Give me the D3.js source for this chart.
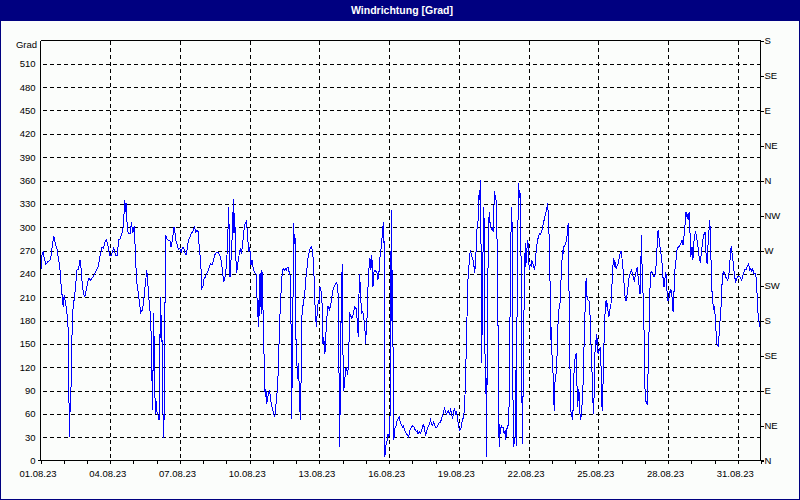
<!DOCTYPE html>
<html><head><meta charset="utf-8">
<script src="https://cdn.jsdelivr.net/npm/d3@7"></script>
<style>
body{margin:0;background:#fbfdfb;}
svg{display:block;}
text{font-family:"Liberation Sans",Arial,sans-serif;}
</style>
</head><body>
<svg id="chart" width="800" height="500"></svg>
<script>
// ---------- data ----------
const chartTitle = "Windrichtung [Grad]";
const unitLabel = "Grad";
const startDate = new Date(2023, 7, 1, 0, 0);
const endDate = new Date(2023, 8, 1, 0, 0);
const degreeTicks = [0,30,60,90,120,150,180,210,240,270,300,330,360,390,420,450,480,510];
const compassValues = [0,45,90,135,180,225,270,315,360,405,450,495,540];
const compassLabels = ["N","NE","E","SE","S","SW","W","NW","N","NE","E","SE","S"];

// [hours since 01.08.23 00:00, direction in degrees]
const week1 = [[0.7,246],[1.4,264],[2.8,269],[3.8,260],[5.5,252],[7.6,256],[9.6,257],[11,264],[12.4,278],[13.8,289],[14.4,283],[15.8,277],[17.2,271],[18.6,259],[20,249],[20.6,234],[22,218],[22.7,203],[23.7,197],[24.4,213],[25.5,205],[26.8,195],[28.2,178],[28.9,155],[29.2,87],[30.3,30],[30.6,82],[31.3,75],[32,137],[32.7,168],[33.7,198],[35.1,210],[36.5,228],[37.8,246],[39.2,246],[39.9,251],[40.9,258],[42,246],[43,228],[44.4,215],[45.8,210],[46.4,215],[47.8,223],[48.8,230],[49.9,234],[51.6,232],[53,234],[54.7,237],[56.4,241],[58.1,245],[59.9,251],[60.9,260],[62.3,266],[63.3,274],[65,273],[66.7,281],[67.8,284],[69.1,280],[70.2,272],[71.2,264],[72.6,263],[74.3,268],[75.7,274],[76.4,268],[77.7,264],[79.5,264],[80.5,284],[81.9,284],[83.2,289],[84.6,294],[85.7,303],[86.3,318],[87,335],[88.1,319],[88.8,331],[89.4,305],[90.5,292],[92.5,292],[93.9,306],[95.3,292],[96.7,301],[97.7,276],[98.7,245],[99.8,225],[101.1,214],[102.2,202],[103.5,190],[104.9,193],[106.3,202],[107.3,215],[108.7,232],[109.7,245],[110.8,228],[111.8,210],[113.2,191],[114.6,155],[115.2,99],[115.9,65],[116.6,189],[117.3,155],[118,92],[118.7,60],[119.7,77],[120.4,60],[121.4,58],[122.5,52],[123.2,135],[123.8,210],[124.5,153],[125.2,187],[126.2,73],[127.3,29],[128,95],[128.7,225],[129.3,290],[130.7,285],[132.1,283],[133.8,282],[134.8,274],[135.9,282],[136.9,290],[137.9,300],[139,292],[140,282],[141.4,277],[142.4,271],[143.8,273],[145.2,268],[146.5,274],[147.9,273],[149.3,267],[150.3,264]];

const week2 = [[151.3,271],[152.7,283],[154.1,286],[155.4,291],[156.8,294],[158.2,297],[158.9,300],[160.3,294],[161.6,296],[163,294],[164,271],[165.4,258],[166.5,221],[167.8,224],[168.9,234],[170.2,236],[171.6,240],[173,244],[174.4,249],[175.7,253],[177.1,251],[178.5,257],[179.9,264],[181.2,267],[183,268],[184.3,266],[185.7,262],[187.1,253],[188.1,241],[189.2,230],[190.2,234],[191.2,241],[192.3,257],[193.3,284],[194.3,326],[195,284],[195.7,236],[196.4,249],[197.4,275],[198.4,299],[199.1,336],[199.8,292],[200.5,318],[201.2,284],[201.9,256],[202.6,241],[203.3,249],[204.3,258],[205.3,266],[206.4,273],[207.4,266],[208.4,275],[209.5,288],[210.5,301],[211.5,305],[212.5,307],[213.2,300],[213.9,288],[215,268],[216,275],[216.7,264],[217.4,251],[218.4,258],[219.4,249],[220.5,243],[221.5,241],[222.5,241],[223.6,208],[224.2,185],[224.9,206],[225.3,172],[226,200],[226.7,241],[227.3,198],[227.7,210],[228,189],[228.7,245],[229.4,210],[230.1,180],[230.8,137],[231.5,95],[232.2,82],[232.8,92],[233.5,73],[234.6,79],[235.3,86],[235.9,88],[236.6,90],[237.3,82],[238.3,73],[239.4,67],[240.8,60],[241.8,56],[242.5,62],[243.2,73],[244.2,86],[245.2,107],[245.9,133],[246.6,163],[247.6,198],[248.7,223],[249.7,243],[250.7,247],[251.8,245],[252.8,247],[253.8,245],[254.9,248],[255.9,248],[256.6,243],[257.6,241],[258.3,210],[259,146],[259.3,54],[260,120],[260.7,202],[261.4,305],[262.1,279],[262.8,288],[263.5,198],[264.1,125],[265.2,120],[265.9,105],[266.6,125],[267.2,86],[267.9,64],[268.6,52],[269,99],[269.7,172],[270.3,198],[271.4,200],[272.4,210],[273.4,223],[274.5,241],[275.5,251],[276.5,263],[277.6,268],[278.6,273],[279.6,275],[280.7,271],[281.3,264],[282,251],[282.7,228],[283.4,202],[284.1,185],[284.8,172],[285.5,185],[286.2,198],[287.2,206],[287.9,202],[288.6,223],[289.3,219],[290.3,215],[291,193],[291.7,150],[292.4,159],[293,150],[293.7,137],[294.4,155],[295.1,172],[295.8,185],[296.8,198]];

const week3 = [[297.2,198],[298.2,193],[299.2,198],[300.3,204],[301.3,215],[302.3,221],[303.7,225],[305.4,229],[306.8,225],[307.8,202],[308.2,120],[308.9,17],[309.5,82],[310.2,168],[310.9,225],[311.6,253],[311.9,172],[313,90],[313.7,95],[314.4,107],[315.1,116],[315.7,120],[316.4,116],[317.1,110],[317.8,120],[318.5,148],[319.2,189],[320.2,187],[321.2,183],[322.3,185],[323.3,189],[324.3,198],[325.4,197],[326.4,193],[327.4,172],[328.1,159],[328.8,210],[329.5,240],[330.2,223],[330.9,204],[331.6,189],[332.3,191],[333.3,189],[334.3,178],[335,170],[335.7,150],[336.4,168],[337.1,180],[337.8,206],[338.4,232],[339.1,245],[340.2,260],[341.2,245],[341.9,264],[342.6,253],[343.3,223],[343.9,236],[344.6,245],[345.7,244],[346.7,243],[347.7,241],[348.4,232],[349.1,239],[349.8,245],[350.5,260],[351.2,271],[351.9,273],[352.9,290],[353.6,301],[354.3,286],[354.6,307],[355.3,153],[355.6,4],[356.3,17],[357,21],[358.1,26],[358.7,34],[359.4,32],[360.1,34],[360.8,32],[361.5,176],[362.2,322],[362.9,180],[363.6,245],[364.2,99],[364.9,26],[365.6,39],[366.3,43],[367.3,45],[368.4,52],[369.4,54],[370.4,56],[371.5,49],[372.8,45],[373.9,43],[374.9,45],[375.9,39],[377,37],[378,34],[379,34],[380.1,30],[381.1,37],[382.1,41],[383.2,43],[384.5,45],[385.6,43],[386.6,40],[388,37],[389,38],[390,34],[391.4,37],[392.5,35],[393.5,39],[394.5,43],[395.5,47],[396.6,40],[397.6,32],[398.6,37],[399.7,41],[400.7,45],[401.7,47],[402.8,52],[403.8,47],[404.8,45],[405.9,49],[406.9,47],[407.9,42],[409,42],[410,45],[411,47],[412.1,49],[413.1,49],[414.1,54],[415.2,58],[416.2,62],[417.2,68],[418.3,62],[419.3,60],[420.3,62],[421.3,64],[422.4,58],[423.4,67],[424.4,60],[425.5,54],[426.5,62],[427.5,67],[428.6,60],[429.6,62],[430.6,54],[431.7,45],[432.7,39],[433.7,41],[434.8,43],[435.5,52],[436.1,54],[436.8,54],[437.5,64],[438.2,82],[438.9,95],[439.6,146],[440.3,180],[441,210],[441.6,241],[442.7,253],[443.4,266],[444.1,271],[444.7,266],[445.4,262],[446.5,260],[447.1,249]];

const week4 = [[447.8,249],[448.2,241],[448.9,249],[449.5,262],[450.2,281],[450.9,303],[452,309],[453,348],[453.7,335],[454.4,361],[455.1,241],[455.7,125],[456.1,232],[456.4,161],[457.1,296],[457.8,326],[458.5,271],[459.2,86],[459.9,133],[460.6,4],[461.2,120],[461.9,228],[462.6,292],[463.3,320],[464,305],[464.7,307],[465.4,296],[466.4,299],[467.4,294],[468.1,322],[468.8,346],[469.5,335],[470.2,341],[470.9,318],[471.6,271],[472.3,198],[472.9,90],[473.6,17],[474.3,47],[475,34],[475.7,45],[476.7,43],[477.8,43],[478.8,34],[479.8,39],[480.5,26],[481.2,39],[482.2,43],[483.3,47],[483.9,73],[484.6,146],[485.3,260],[486,303],[486.7,326],[487.4,258],[487.7,159],[488.1,17],[488.8,30],[489.5,21],[490.1,30],[490.8,116],[491.5,19],[492.2,223],[492.9,292],[493.6,357],[494.3,337],[495,348],[495.6,331],[496.3,249],[497,99],[497.7,21],[498.4,99],[499.1,180],[499.8,228],[500.5,279],[501.1,249],[502.2,271],[503.2,284],[503.9,271],[504.6,245],[505.3,249],[506,253],[506.7,249],[507.3,258],[508.4,253],[509.4,249],[510.1,245],[510.8,251],[511.5,264],[512.5,277],[513.5,284],[514.6,290],[515.6,292],[516.6,291],[517.7,296],[518.7,301],[519.7,307],[520.8,314],[521.8,318],[522.8,324],[523.5,331],[524.2,320],[524.9,296],[525.6,281],[526.3,215],[526.9,155],[527.6,172],[528.3,129],[529,120],[529.7,99],[530.4,64],[531.1,99],[531.8,107],[532.5,112],[533.1,125],[533.8,150],[534.5,180],[535.2,193],[535.9,198],[536.6,204],[537.3,228],[538,245],[538.6,260],[539.3,271],[540,266],[540.7,277],[541.4,275],[542.1,280],[542.8,281],[543.5,288],[544.1,290],[544.8,305],[545.5,245],[546.2,168],[546.9,107],[547.6,64],[548.3,58],[549,56],[549.7,52],[550.3,90],[551,116],[551.7,129],[552.4,133],[553.1,138],[553.8,107],[554.5,69],[555.2,92],[555.8,77],[556.5,88],[557.2,56],[557.9,52],[558.6,64],[559.3,73],[560,90],[560.7,112],[561.3,150],[562,180],[562.7,206],[563.4,234],[564.1,211],[564.8,210],[565.5,206],[566.2,206],[566.9,202],[567.5,185],[568.2,163],[568.9,125],[569.6,112],[570.3,82],[571,60],[571.7,86],[572.4,133],[573.1,155],[573.7,150],[574.4,163],[575.1,150],[575.8,137],[576.5,142],[577.2,142],[577.9,146],[578.6,129],[579.2,107],[579.9,64],[580.6,82],[581.3,125],[582,155],[582.7,180],[583.4,204],[584.1,206],[584.7,198],[585.4,200],[586.1,191],[586.8,185],[587.5,189],[588.2,196],[588.9,198],[589.6,210],[590.2,228],[590.9,245],[591.6,260],[592.3,258],[593,251],[593.7,253],[594.4,247],[595.1,249],[595.7,251]];

const week5 = [[596.4,253],[597.8,261],[598.8,268],[599.9,269],[600.9,253],[601.9,241],[603,219],[604,206],[605,206],[606.1,217],[607.1,228],[608.1,239],[609.2,241],[610.2,246],[611.2,240],[612.3,236],[613.3,230],[614.3,239],[615.3,245],[616.4,249],[617.1,236],[617.8,228],[618.4,221],[619.1,214],[619.8,241],[620.5,290],[621.2,249],[621.9,223],[622.6,202],[623.3,161],[623.9,105],[624.6,77],[625.7,75],[626.7,72],[627.4,116],[628.1,150],[628.8,189],[629.5,228],[630.1,241],[631.2,243],[632.2,241],[633.2,237],[634.3,236],[635.3,245],[636.3,264],[637,284],[637.7,296],[638.4,290],[639.4,277],[640.5,268],[641.5,258],[642.5,241],[643.2,228],[643.9,223],[644.6,230],[645.3,241],[646.3,239],[647.3,206],[648.4,206],[649.4,213],[650.4,221],[651.1,215],[651.8,219],[652.5,200],[653.2,191],[653.9,210],[654.6,228],[655.3,249],[656.3,258],[657.3,271],[658.3,274],[659.4,275],[660.4,277],[661.4,280],[662.5,283],[663.5,277],[664.5,288],[665.2,301],[665.9,305],[666.6,320],[667.3,314],[668,312],[668.7,318],[669.4,309],[670,320],[670.7,292],[671.4,262],[672.1,268],[672.8,275],[673.5,258],[674.2,264],[674.9,284],[675.9,292],[676.6,294],[677.3,288],[678.3,281],[679.3,271],[680.4,258],[681.4,256],[682.4,266],[683.5,279],[684.5,288],[685.5,292],[686.2,294],[686.9,275],[687.6,258],[688.3,253],[689,266],[689.7,292],[690.3,296],[691,309],[691.7,294],[692.4,258],[693.1,223],[693.8,210],[694.5,200],[695.2,193],[695.8,198],[696.5,189],[697.2,178],[697.9,155],[698.6,150],[699.3,148],[700,146],[700.7,161],[701.4,176],[702.4,189],[703.1,208],[703.8,228],[704.4,239],[705.5,243],[706.5,239],[707.5,236],[708.6,234],[709.6,232],[710.6,237],[711.3,245],[712,258],[712.7,271],[713.4,276],[714.1,266],[714.8,260],[715.8,247],[716.8,236],[717.9,230],[718.9,234],[719.9,236],[721,236],[722,237],[723,234],[724.1,232],[725.1,237],[726.1,241],[727.1,245],[728.2,245],[729.2,247],[730.2,251],[731.3,253],[732.3,245],[733.3,247],[734.4,244],[735.4,246],[736.4,241],[737.5,240],[738.5,241],[739.2,232],[739.9,215],[740.6,193],[741.3,185],[742,178],[742.6,172]];

// ---------- layout ----------
const W = 800, H = 500;
const plot = {left: 40.5, right: 760.5, top: 40.5, bottom: 460.5};
const navy = "#000080";

const svg = d3.select("#chart");
svg.append("rect").attr("width", W).attr("height", H).attr("fill", "#fbfdfb");

// title bar
svg.append("rect").attr("x", 0).attr("y", 0).attr("width", W).attr("height", 21).attr("fill", navy);
svg.append("text").attr("x", 402).attr("y", 14)
  .attr("text-anchor", "middle").attr("fill", "#fff")
  .attr("font-size", "10.5px").attr("font-weight", "bold")
  .text(chartTitle);
// window border
svg.append("rect").attr("x", 0.5).attr("y", 0.5).attr("width", W - 1).attr("height", H - 1)
  .attr("fill", "none").attr("stroke", navy).attr("stroke-width", 1);

const x = d3.scaleTime().domain([startDate, endDate]).range([plot.left, plot.right + 0.5]);
const y = d3.scaleLinear().domain([0, 540]).range([plot.bottom, plot.top]);

const toDate = h => new Date(startDate.getTime() + h * 3600e3);
const series = [].concat(week1, week2, week3, week4, week5).map(d => ({t: toDate(d[0]), v: d[1]}));

// grid
const grid = svg.append("g").attr("stroke", "#000").attr("stroke-dasharray", "4,3")
  .attr("shape-rendering", "crispEdges").attr("stroke-width", 1);
grid.selectAll("line.h").data(degreeTicks.filter(d => d > 0)).join("line")
  .attr("x1", plot.left + 2).attr("x2", plot.right)
  .attr("y1", d => Math.round(y(d)) + 0.5).attr("y2", d => Math.round(y(d)) + 0.5);
const majorDays = d3.timeDay.every(3).range(startDate, endDate).filter(d => +d > +startDate);
grid.selectAll("line.v").data(majorDays).join("line")
  .attr("y1", plot.top).attr("y2", plot.bottom)
  .attr("x1", d => Math.round(x(d)) + 0.5).attr("x2", d => Math.round(x(d)) + 0.5);

// data line
svg.append("path").datum(series)
  .attr("fill", "none").attr("stroke", "#0000ff").attr("stroke-width", 1)
  .attr("shape-rendering", "crispEdges")
  .attr("d", d3.line().x(d => x(d.t)).y(d => y(d.v)));

// frame
const frame = svg.append("g").attr("stroke", "#000").attr("shape-rendering", "crispEdges");
frame.append("line").attr("x1", plot.left).attr("x2", plot.left).attr("y1", plot.top).attr("y2", plot.bottom);
frame.append("line").attr("x1", plot.right).attr("x2", plot.right).attr("y1", plot.top).attr("y2", plot.bottom);
frame.append("line").attr("x1", plot.left).attr("x2", plot.right).attr("y1", plot.top).attr("y2", plot.top);
frame.append("line").attr("x1", plot.left - 3).attr("x2", plot.right + 3).attr("y1", plot.bottom).attr("y2", plot.bottom);

const fontSize = "9.5px";
// bottom axis: daily minor ticks + 3-day labels
const minorAxis = d3.axisBottom(x).ticks(d3.timeDay.every(1)).tickSize(3).tickFormat("");
const gMinor = svg.append("g").attr("transform", `translate(0,${plot.bottom})`).call(minorAxis);
gMinor.select(".domain").remove();
gMinor.selectAll("line").attr("shape-rendering", "crispEdges");

const majorAxis = d3.axisBottom(x).ticks(d3.timeDay.every(3)).tickSize(3).tickPadding(7)
  .tickFormat(d3.timeFormat("%d.%m.%y"));
const gMajor = svg.append("g").attr("transform", `translate(0,${plot.bottom})`).call(majorAxis);
gMajor.select(".domain").remove();
gMajor.selectAll("line").attr("shape-rendering", "crispEdges");
gMajor.selectAll("text").attr("font-size", fontSize).attr("font-family", "Liberation Sans, Arial, sans-serif")
  .attr("fill", "#000").attr("dx", "-3");
gMajor.selectAll(".tick").filter(d => +d >= +endDate).remove();

// left axis
const leftAxis = d3.axisLeft(y).tickValues(degreeTicks).tickSize(0).tickPadding(5);
const gLeft = svg.append("g").attr("transform", `translate(${plot.left},0)`).call(leftAxis);
gLeft.select(".domain").remove();
gLeft.selectAll("text").attr("font-size", fontSize).attr("font-family", "Liberation Sans, Arial, sans-serif").attr("fill", "#000");
svg.append("text").attr("x", 37).attr("y", 48).attr("text-anchor", "end")
  .attr("font-size", fontSize).attr("fill", "#000").text(unitLabel);

// right axis (compass)
const rightAxis = d3.axisRight(y).tickValues(compassValues).tickSize(3).tickPadding(1)
  .tickFormat((d, i) => compassLabels[i]);
const gRight = svg.append("g").attr("transform", `translate(${plot.right},0)`).call(rightAxis);
gRight.select(".domain").remove();
gRight.selectAll("line").attr("shape-rendering", "crispEdges");
gRight.selectAll("text").attr("font-size", fontSize).attr("font-family", "Liberation Sans, Arial, sans-serif").attr("fill", "#000");
</script>
</body></html>
